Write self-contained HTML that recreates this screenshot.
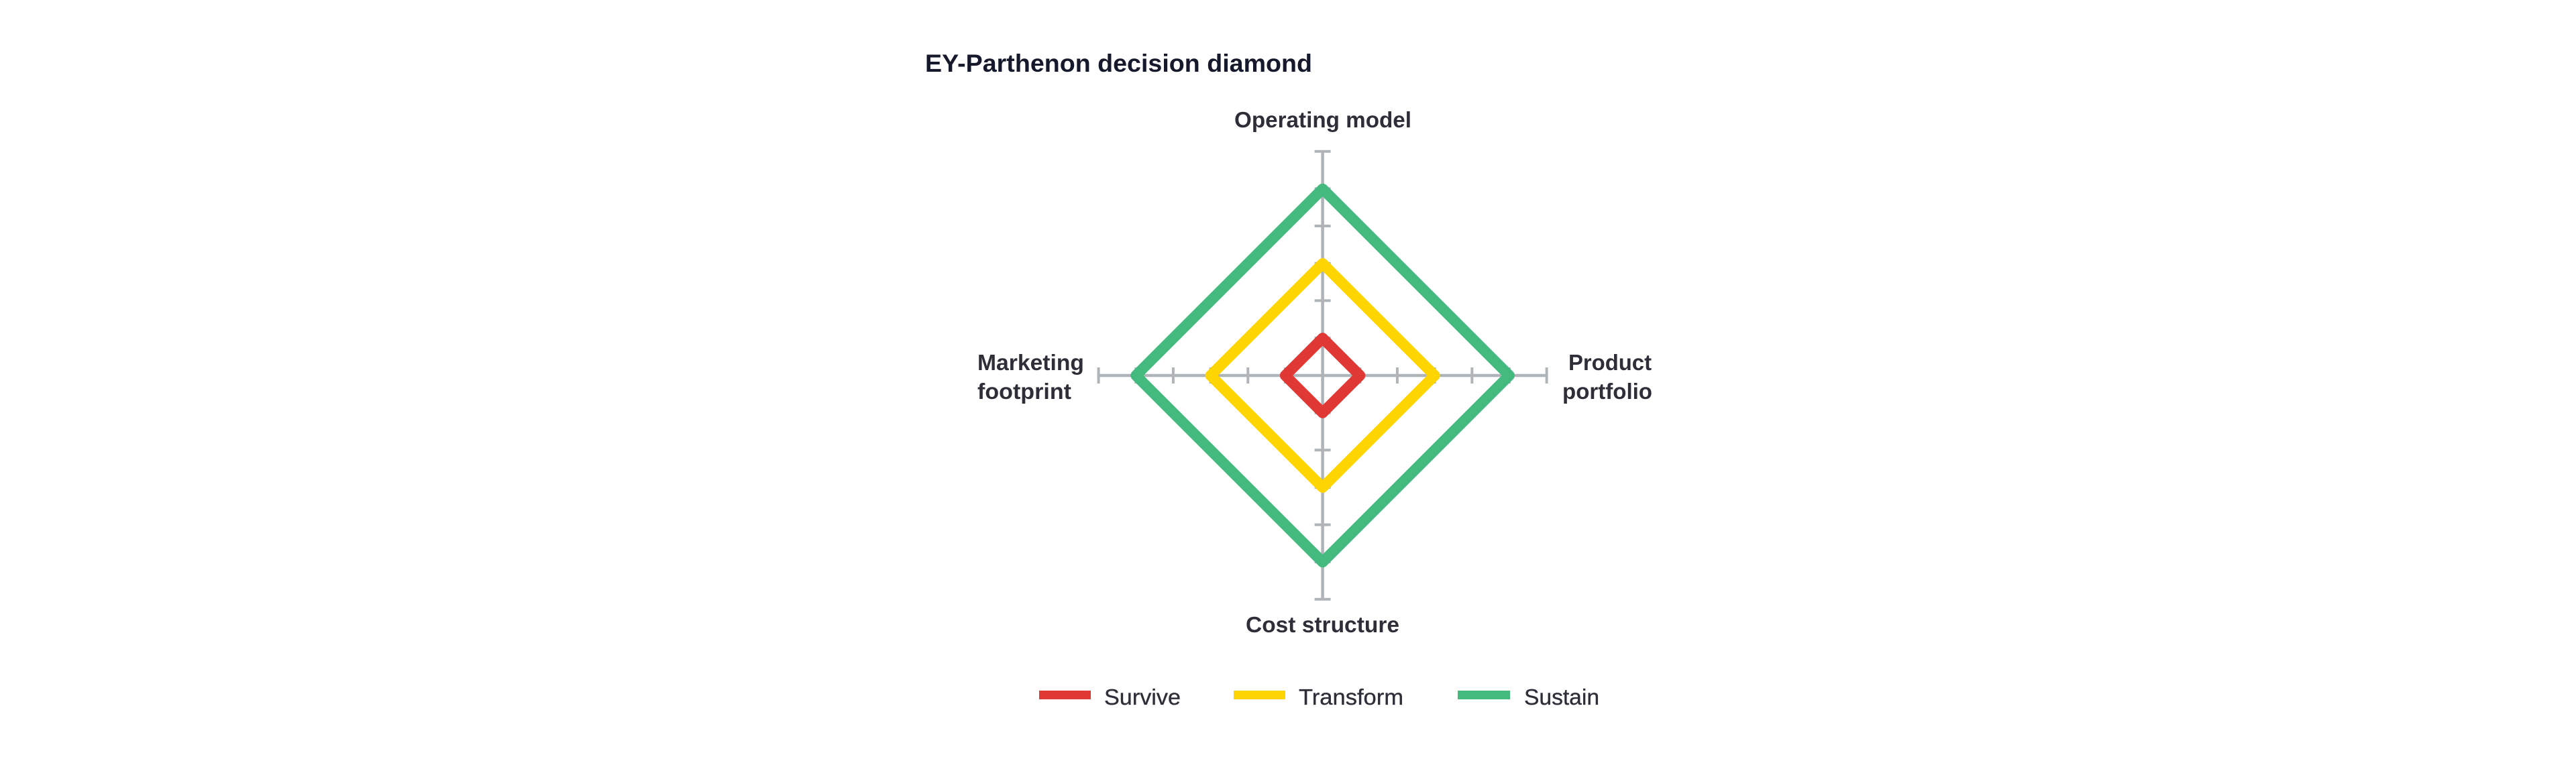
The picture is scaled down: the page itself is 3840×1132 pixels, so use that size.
<!DOCTYPE html>
<html lang="en">
<head>
<meta charset="utf-8">
<title>EY-Parthenon decision diamond</title>
<style>
html,body{margin:0;padding:0;background:#fff;width:3840px;height:1132px;overflow:hidden}
svg{display:block}
text{font-family:"Liberation Sans",sans-serif;fill:#2E2E38}
.t{font-weight:bold;font-size:37.5px;fill:#15192B}
.l{font-size:33px;font-weight:bold}
.g{font-size:33px;stroke:#2E2E38;stroke-width:.35px}
</style>
</head>
<body>
<svg width="3840" height="1132" viewBox="0 0 3840 1132" xmlns="http://www.w3.org/2000/svg">
<rect width="3840" height="1132" fill="#fff"/>
<text class="t" x="1379" y="107" textLength="577" lengthAdjust="spacingAndGlyphs">EY-Parthenon decision diamond</text>
<text class="l" x="1840" y="190" textLength="264" lengthAdjust="spacingAndGlyphs">Operating model</text>
<text class="l" x="1457" y="552" textLength="159" lengthAdjust="spacingAndGlyphs">Marketing</text>
<text class="l" x="1457" y="595" textLength="140" lengthAdjust="spacingAndGlyphs">footprint</text>
<text class="l" x="2338" y="552" textLength="124" lengthAdjust="spacingAndGlyphs">Product</text>
<text class="l" x="2329" y="595" textLength="134" lengthAdjust="spacingAndGlyphs">portfolio</text>
<text class="l" x="1857" y="943" textLength="229" lengthAdjust="spacingAndGlyphs">Cost structure</text>

<g stroke="#AEB4B8" stroke-width="4.5" fill="none">
<path d="M1971.6 225.7V893.7M1637.6 560H2305.6"/>
<path stroke-width="4" d="M1959.6 225.7h24M1959.6 281.4h24M1959.6 337h24M1959.6 392.7h24M1959.6 448.4h24M1959.6 504h24M1959.6 615.7h24M1959.6 671.3h24M1959.6 727h24M1959.6 782.6h24M1959.6 838.3h24M1959.6 893.7h24"/>
<path stroke-width="4" d="M1637.6 548v24M1693.3 548v24M1748.9 548v24M1804.6 548v24M1860.3 548v24M1915.9 548v24M2027.3 548v24M2082.9 548v24M2138.6 548v24M2194.3 548v24M2249.9 548v24M2305.6 548v24"/>
</g>

<g fill="none" stroke-width="16" stroke-linejoin="round">
<path stroke="#45BA7F" d="M1971.6 281.7L2249.9 560L1971.6 838.3L1693.3 560Z"/>
<path stroke="#FFD500" d="M1971.6 393L2138.6 560L1971.6 727L1804.6 560Z"/>
<path stroke="#E03835" d="M1971.6 504.3L2027.3 560L1971.6 615.7L1915.9 560Z"/>
</g>

<rect x="1549" y="1030" width="77" height="13" fill="#E03835"/>
<text class="g" x="1646" y="1051" textLength="114" lengthAdjust="spacingAndGlyphs">Survive</text>
<rect x="1839" y="1030" width="77" height="13" fill="#FFD500"/>
<text class="g" x="1936" y="1051" textLength="156" lengthAdjust="spacingAndGlyphs">Transform</text>
<rect x="2173" y="1030" width="78" height="13" fill="#45BA7F"/>
<text class="g" x="2272" y="1051" textLength="112" lengthAdjust="spacingAndGlyphs">Sustain</text>
</svg>
</body>
</html>
